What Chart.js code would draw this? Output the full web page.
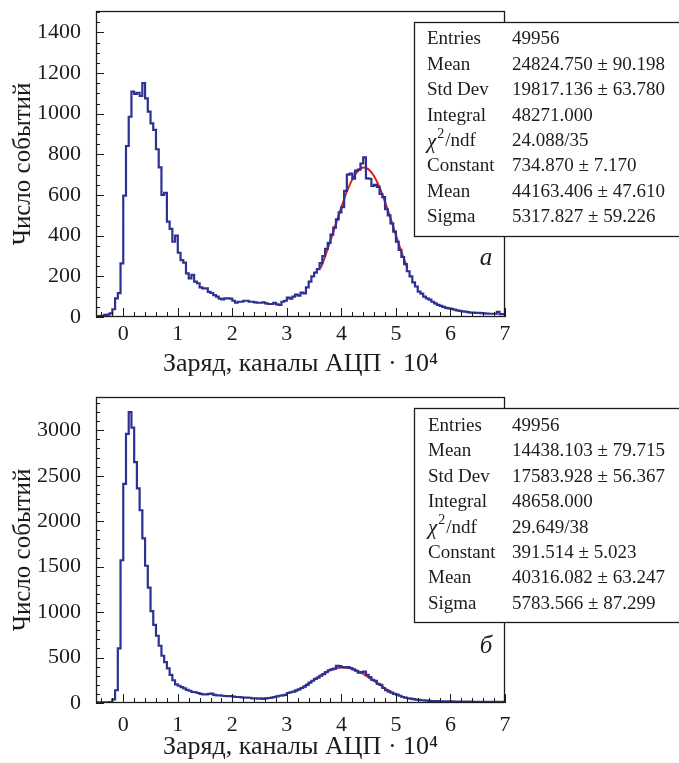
<!DOCTYPE html>
<html>
<head>
<meta charset="utf-8">
<script src="https://cdn.jsdelivr.net/npm/chart.js@4.4.1/dist/chart.umd.min.js"></script>
<style>
  body { margin: 0; background: #fff; width: 679px; height: 763px; overflow: hidden; position: relative; }
  canvas { position: absolute; left: 0; }
  #histA { top: 0; }
  #histB { top: 380px; }
</style>
</head>
<body>
<canvas id="histA" width="679" height="380"></canvas>
<canvas id="histB" width="679" height="383"></canvas>
<script>
// binning of both histograms (charge, ADC channels / 10^4)
const X_MIN = -0.5;
const X_MAX = 7;
const BIN_WIDTH = 0.05;

// panel a: counts per bin (150 bins)
const countsA = [
  3, 5, 6, 10, 12, 18, 38, 92, 117, 264,
  597, 841, 985, 1108, 1097, 1103, 1087, 1150, 1075, 1010,
  952, 920, 825, 736, 600, 611, 469, 433, 370, 400,
  316, 280, 267, 215, 190, 207, 174, 166, 146, 141,
  141, 124, 118, 108, 100, 90, 87, 92, 92, 90,
  80, 70, 75, 75, 80, 80, 75, 75, 72, 70,
  70, 72, 67, 64, 64, 70, 62, 59, 75, 80,
  95, 90, 100, 110, 105, 120, 116, 146, 174, 200,
  218, 235, 265, 300, 335, 365, 405, 440, 480, 515,
  540, 620, 700, 705, 680, 720, 725, 755, 785, 682,
  680, 645, 650, 640, 605, 590, 530, 500, 460, 420,
  370, 330, 295, 260, 225, 200, 170, 150, 125, 115,
  100, 92, 85, 75, 67, 60, 55, 50, 45, 42,
  40, 36, 33, 30, 28, 26, 24, 22, 22, 20,
  20, 19, 18, 17, 16, 16, 16, 25, 14, 14
];

// panel b: counts per bin (150 bins)
const countsB = [
  8, 8, 8, 8, 8, 10, 40, 140, 600, 1570,
  2410, 2960, 3200, 3030, 2650, 2360, 2120, 1810, 1510, 1270,
  1010, 860, 740, 630, 520, 450, 380, 310, 250, 205,
  190, 175, 160, 145, 135, 121, 118, 110, 100, 95,
  95, 100, 103, 90, 84, 84, 80, 77, 75, 77,
  70, 66, 66, 62, 59, 60, 58, 50, 52, 48,
  50, 46, 50, 55, 60, 66, 72, 80, 84, 90,
  110, 118, 125, 140, 150, 165, 180, 200, 225, 245,
  265, 280, 300, 318, 340, 360, 370, 378, 410, 405,
  395, 392, 395, 385, 370, 355, 335, 340, 345, 310,
  285, 255, 245, 210, 200, 165, 140, 125, 115, 100,
  92, 80, 66, 60, 52, 48, 42, 38, 34, 30,
  28, 26, 24, 22, 22, 20, 19, 19, 18, 18,
  17, 16, 16, 15, 16, 15, 14, 15, 14, 14,
  13, 14, 13, 12, 13, 12, 12, 12, 11, 12
];

// red fit curves
const fitAX = [3.62, 3.7, 3.8, 3.9, 4.0, 4.1, 4.2, 4.3, 4.4, 4.5, 4.6, 4.7, 4.8, 4.9, 5.0, 5.1, 5.21];
const fitAY = [240, 297, 376, 459, 541, 616, 677, 718, 735, 726, 692, 637, 566, 486, 402, 321, 241];
const fitBX = [3.16, 3.3, 3.4, 3.5, 3.6, 3.7, 3.8, 3.9, 4.0, 4.1, 4.2, 4.3, 4.4, 4.5, 4.6, 4.7, 4.8, 4.9];
const fitBY = [126, 176, 216, 256, 296, 332, 361, 381, 391, 389, 375, 352, 320, 282, 242, 201, 162, 127];

// axis ticks
const xTicks = [0, 1, 2, 3, 4, 5, 6, 7];
const yTicksA = [0, 200, 400, 600, 800, 1000, 1200, 1400];
const yTicksB = [0, 500, 1000, 1500, 2000, 2500, 3000];
const yMaxA = 1505, yStepA = 200, yMinorA = 50;
const yMaxB = 3366, yStepB = 500, yMinorB = 100;

// stat boxes
const statsA = [
  ['Entries', '49956'],
  ['Mean', '24824.750 ± 90.198'],
  ['Std Dev', '19817.136 ± 63.780'],
  ['Integral', '48271.000'],
  ['chi2', '24.088/35'],
  ['Constant', '734.870 ± 7.170'],
  ['Mean', '44163.406 ± 47.610'],
  ['Sigma', '5317.827 ± 59.226']
];
const statsB = [
  ['Entries', '49956'],
  ['Mean', '14438.103 ± 79.715'],
  ['Std Dev', '17583.928 ± 56.367'],
  ['Integral', '48658.000'],
  ['chi2', '29.649/38'],
  ['Constant', '391.514 ± 5.023'],
  ['Mean', '40316.082 ± 63.247'],
  ['Sigma', '5783.566 ± 87.299']
];

const SERIF = '"Liberation Serif", "Times New Roman", serif';
const INK = '#1c1c1c';
const HIST_COLOR = '#2d3192';
const FIT_COLOR = '#d9231f';

function histPoints(counts) {
  const pts = counts.map((c, i) => ({ x: X_MIN + i * BIN_WIDTH, y: c }));
  pts.push({ x: X_MAX, y: counts[counts.length - 1] });
  return pts;
}

// ROOT-like frame with inward ticks, stat box and panel letter
const rootFrame = {
  id: 'rootFrame',
  afterDatasetsDraw(chart, args, opts) {
    const { ctx, chartArea: a, scales: { x, y } } = chart;
    ctx.save();
    ctx.strokeStyle = INK;
    ctx.lineWidth = 1;
    ctx.beginPath();
    for (let i = -2; i <= 35; i++) {
      const px = Math.round(x.getPixelForValue(i * 0.2)) + 0.5;
      const len = i % 5 === 0 ? 9 : 5;
      ctx.moveTo(px, a.bottom);
      ctx.lineTo(px, a.bottom - len);
    }
    for (let v = 0; v <= opts.yMax; v += opts.yMinor) {
      const py = Math.round(y.getPixelForValue(v)) + 0.5;
      const len = v % opts.yStep === 0 ? 8 : 4;
      ctx.moveTo(a.left, py);
      ctx.lineTo(a.left + len, py);
    }
    ctx.stroke();
    ctx.lineWidth = 1.3;
    ctx.strokeRect(a.left + 0.5, a.top + 0.5, a.right - a.left - 1, a.bottom - a.top - 1);
    ctx.restore();
  },
  afterDraw(chart, args, opts) {
    const { ctx } = chart;
    const b = opts.box;
    ctx.save();
    ctx.fillStyle = '#fff';
    ctx.fillRect(b.left, b.top, b.right - b.left, b.bottom - b.top);
    ctx.strokeStyle = INK;
    ctx.lineWidth = 1.3;
    ctx.strokeRect(b.left + 0.5, b.top + 0.5, b.right - b.left, b.bottom - b.top);
    ctx.fillStyle = INK;
    ctx.textBaseline = 'middle';
    ctx.textAlign = 'left';
    opts.rows.forEach((row, i) => {
      const ty = b.firstRow + i * b.rowStep;
      ctx.font = '19px ' + SERIF;
      if (row[0] === 'chi2') {
        ctx.font = 'italic 21px ' + SERIF;
        ctx.fillText('χ', b.col1, ty + 1);
        const w1 = ctx.measureText('χ').width;
        ctx.font = '14px ' + SERIF;
        ctx.fillText('2', b.col1 + w1 + 1, ty - 7);
        const w2 = ctx.measureText('2').width;
        ctx.font = '19px ' + SERIF;
        ctx.fillText('/ndf', b.col1 + w1 + w2 + 2, ty);
      } else {
        ctx.fillText(row[0], b.col1, ty);
      }
      ctx.fillText(row[1], b.col2, ty);
    });
    ctx.font = 'italic 25px ' + SERIF;
    ctx.textAlign = 'center';
    ctx.fillText(opts.letter.text, opts.letter.x, opts.letter.y);
    ctx.restore();
  }
};

function makeChart(id, counts, fitX, fitY, cfg) {
  return new Chart(document.getElementById(id), {
    type: 'line',
    data: {
      datasets: [
        {
          data: histPoints(counts),
          stepped: 'before',
          borderColor: HIST_COLOR,
          borderWidth: 2.2,
          pointRadius: 0,
          fill: false
        },
        {
          data: fitX.map((v, i) => ({ x: v, y: fitY[i] })),
          borderColor: FIT_COLOR,
          borderWidth: 2,
          pointRadius: 0,
          cubicInterpolationMode: 'monotone',
          fill: false
        }
      ]
    },
    options: {
      responsive: false,
      animation: false,
      events: [],
      layout: { padding: { top: cfg.padTop, right: 174, left: 0, bottom: 0 } },
      scales: {
        x: {
          type: 'linear',
          min: X_MIN,
          max: X_MAX,
          grid: { display: false },
          border: { display: false },
          afterFit: (s) => { s.height = cfg.xHeight; s.paddingLeft = 0; s.paddingRight = 0; },
          afterBuildTicks: (s) => { s.ticks = xTicks.map((v) => ({ value: v })); },
          ticks: {
            padding: cfg.xTickPad,
            color: INK,
            font: { family: SERIF, size: 22 },
            callback: (v) => String(v)
          },
          title: {
            display: true,
            text: 'Заряд, каналы АЦП · 10⁴',
            color: INK,
            font: { family: SERIF, size: 26 },
            padding: { top: 0, bottom: cfg.xTitlePad }
          }
        },
        y: {
          type: 'linear',
          min: 0,
          max: cfg.yMax,
          grid: { display: false },
          border: { display: false },
          afterFit: (s) => { s.width = 96; s.paddingTop = 0; s.paddingBottom = 0; },
          afterBuildTicks: (s) => { s.ticks = cfg.yTicks.map((v) => ({ value: v })); },
          ticks: {
            padding: 7,
            color: INK,
            font: { family: SERIF, size: 22 },
            callback: (v) => String(v)
          },
          title: {
            display: true,
            text: 'Число событий',
            color: INK,
            font: { family: SERIF, size: 25 },
            padding: { top: 8, bottom: 0 }
          }
        }
      },
      plugins: {
        legend: { display: false },
        tooltip: { enabled: false },
        rootFrame: {
          yMax: cfg.yMax,
          yStep: cfg.yStep,
          yMinor: cfg.yMinor,
          box: cfg.box,
          rows: cfg.rows,
          letter: cfg.letter
        }
      }
    },
    plugins: [rootFrame]
  });
}

makeChart('histA', countsA, fitAX, fitAY, {
  padTop: 11, xHeight: 63, xTickPad: -4, xTitlePad: 0,
  yMax: yMaxA, yStep: yStepA, yMinor: yMinorA, yTicks: yTicksA,
  box: { left: 414, top: 22, right: 690, bottom: 236, firstRow: 39.5, rowStep: 25.4, col1: 427, col2: 512 },
  rows: statsA,
  letter: { text: 'а', x: 486, y: 258 }
});

makeChart('histB', countsB, fitBX, fitBY, {
  padTop: 17, xHeight: 60, xTickPad: 1, xTitlePad: 0,
  yMax: yMaxB, yStep: yStepB, yMinor: yMinorB, yTicks: yTicksB,
  box: { left: 414, top: 28, right: 690, bottom: 242, firstRow: 46, rowStep: 25.4, col1: 428, col2: 512 },
  rows: statsB,
  letter: { text: 'б', x: 486, y: 266 }
});
</script>
</body>
</html>
